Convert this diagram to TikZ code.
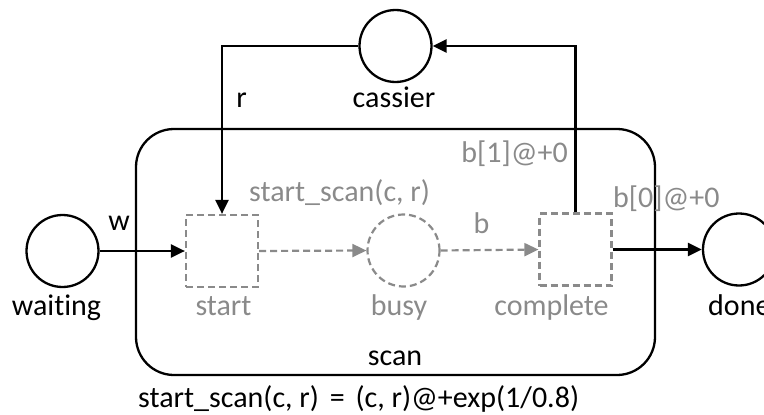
\documentclass[tikz,border=0pt]{standalone}
\usepackage{fontspec}
\setmainfont{Carlito}[Ligatures=NoCommon,RawFeature=-liga]
\usetikzlibrary{arrows.meta}
\definecolor{inactive}{HTML}{8A8A8A}
\begin{document}
\begin{tikzpicture}[x=1pt,y=-1pt,
  font=\fontsize{30}{35}\selectfont,
  place/.style={circle,draw=black,line width=2.3pt,minimum size=72pt,inner sep=0pt},
  ghostplace/.style={circle,draw=inactive,line width=2.2pt,dash pattern=on 7pt off 4pt,minimum size=72pt,inner sep=0pt},
  ghosttrans/.style={rectangle,draw=inactive,line width=2.2pt,dash pattern=on 7pt off 4pt,minimum size=72pt,inner sep=0pt},
  lbl/.style={anchor=base,inner sep=0pt,text=black},
  glbl/.style={anchor=base,inner sep=0pt,text=inactive},
  arc/.style={line width=2.3pt,draw=black,-{Triangle[length=14pt,width=13pt]}},
  ghostarc/.style={line width=2.2pt,draw=inactive,dash pattern=on 7pt off 4pt,-{Triangle[length=14pt,width=13pt,fill=inactive,sep=0pt]}}]
\useasboundingbox (0,0) rectangle (764,415);
\clip (0,0) rectangle (764,415);

% container of the scan subnet
\node[draw=black,line width=2.3pt,rounded corners=38pt,minimum width=519pt,minimum height=246pt,inner sep=0pt] (scan) at (395.5,252) {};
\node[lbl] (scanlbl) at (395,365) {scan};

% places
\node[place] (cassier) at (395.5,46) {};
\node[place] (waiting) at (62.5,251) {};
\node[place] (done) at (739,249.5) {};
\node[ghostplace] (busy) at (403.5,250.5) {};

% transitions
\node[ghosttrans] (start) at (222,251) {};
\node[ghosttrans] (complete) at (575.5,249.5) {};

% place and transition names
\node[lbl] (cassierlbl) at (394,107) {cassier};
\node[lbl] (waitinglbl) at (56.5,315) {waiting};
\node[lbl,anchor=base west] (donelbl) at (708,315) {done};
\node[glbl] (startlbl) at (223.5,315) {start};
\node[glbl] (busylbl) at (399,315) {busy};
\node[glbl] (completelbl) at (551.5,315) {complete};

% arcs
\draw[arc] (waiting.east) -- (start.west);
\draw[arc] (cassier.west) -| (start.north);
\draw[arc] (complete.north) |- (cassier.east);
\draw[arc] (complete.east) -- (done.west);
\draw[ghostarc] (start.east) -- (busy.west);
\draw[ghostarc] (busy.east) -- (complete.west);

% arc inscriptions
\node[lbl] (rlbl) at (241.5,107) {r};
\node[lbl] (wlbl) at (119,230) {w};
\node[glbl] (blbl) at (481.5,233) {b};
\node[glbl,anchor=base west] (sslbl) at (249,201) {start\_scan(c, r)};
\node[glbl,anchor=base east] (b1lbl) at (568,162) {b[1]@+0};
\node[glbl,anchor=base west] (b0lbl) at (613,207) {b[0]@+0};

% function definition
\node[lbl,anchor=base west] (deflbl) at (138,407) {start\_scan(c, r) \hspace{4pt}= \hspace{4pt}(c, r)@+exp(1/0.8)};
\end{tikzpicture}
\end{document}
